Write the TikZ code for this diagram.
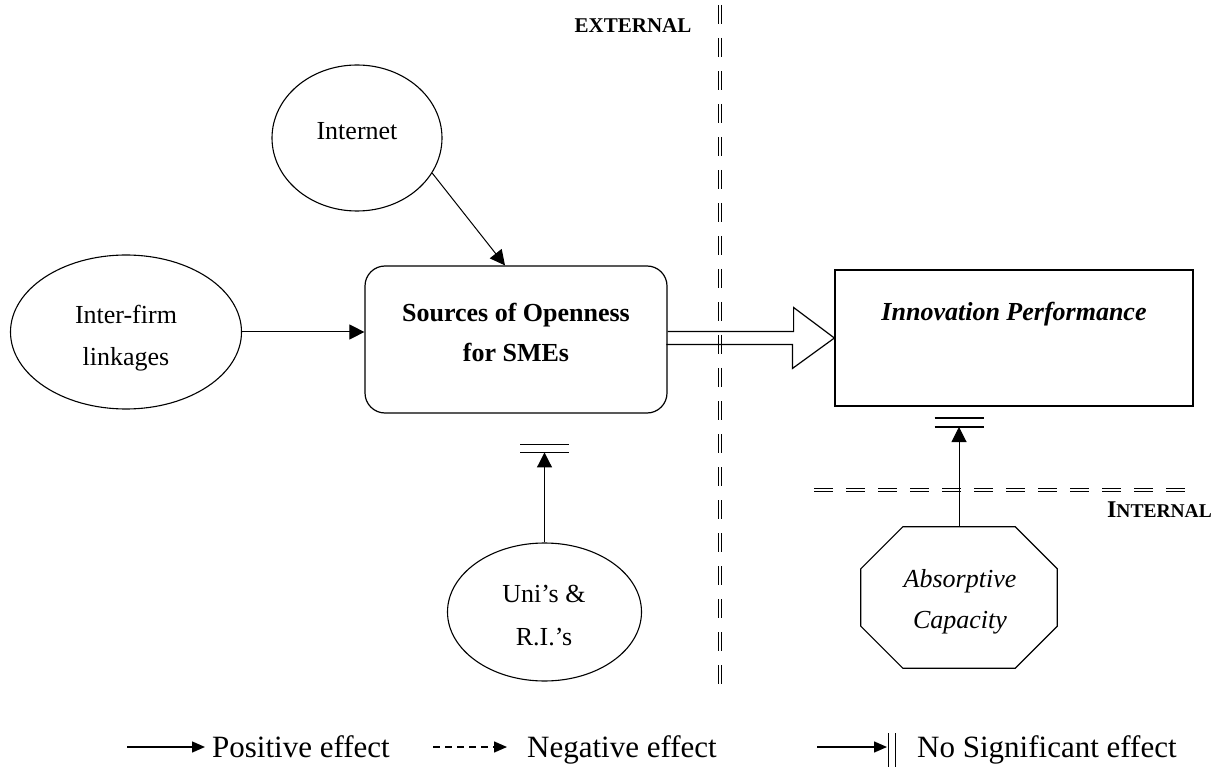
\documentclass[tikz,border=0pt]{standalone}
\usepackage{fontspec}
\setmainfont{Liberation Serif}
\usetikzlibrary{arrows.meta,calc,shapes.geometric}
\begin{document}
\begin{tikzpicture}[x=1pt,y=-1pt,
  ell/.style={draw, ellipse, inner sep=0pt, line width=1.1pt},
  boxst/.style={draw, rectangle, inner sep=0pt, line width=1.2pt},
  outline/.style={draw, line width=1.2pt, line join=miter},
  txt/.style={inner sep=0pt, anchor=base, font=\fontsize{26}{30}\selectfont},
  posarrow/.style={-{Triangle[length=15pt,width=15pt]}, line width=1pt},
  bar/.style={line width=1.3pt},
  sepline/.style={double, double distance=2.3pt, line width=0.9pt, dash pattern=on 19pt off 14pt},
  legarrow/.style={-{Triangle[length=13pt,width=11pt]}, line width=1.4pt},
  legtxt/.style={inner sep=0pt, anchor=base west, font=\fontsize{31}{35}\selectfont}
]
\useasboundingbox (0,0) rectangle (1216,767);

% separating lines
\coordinate (vtop) at (720,5);
\coordinate (vbot) at (720,690);
\draw[sepline] (vtop) -- (vbot);
\coordinate (hl) at (814,490);
\coordinate (hr) at (1194,490);
\draw[sepline, dash pattern=on 19pt off 13pt] (hl) -- (hr);

\node[txt, font=\fontsize{21}{24}\selectfont\bfseries] (ext) at (633,33) {EXTERNAL};
\node[txt, anchor=base east, font=\bfseries] (int) at (1212,517) {{\fontsize{24}{26}\selectfont I}{\fontsize{19.5}{22}\selectfont NTERNAL}};

% shapes
\node[ell, minimum width=170pt, minimum height=146pt] (inet) at (357,138) {};
\node[ell, minimum width=231pt, minimum height=154pt] (firm) at (126,332) {};
\node[boxst, rounded corners=20pt, minimum width=302pt, minimum height=147pt] (src) at (516,339.5) {};
\node[boxst, minimum width=358pt, minimum height=136pt] (inno) at (1014,338) {};
\node[ell, minimum width=194pt, minimum height=138pt] (uni) at (544.5,612) {};
\node[inner sep=0pt, minimum width=196pt, minimum height=141pt] (abs) at (959,597.5) {};
\draw[outline] ($(abs.north west)+(42,0)$) -- ($(abs.north east)+(-42,0)$)
  -- ($(abs.north east)+(0,42)$) -- ($(abs.south east)+(0,-42)$)
  -- ($(abs.south east)+(-42,0)$) -- ($(abs.south west)+(42,0)$)
  -- ($(abs.south west)+(0,-42)$) -- ($(abs.north west)+(0,42)$) -- cycle;

% texts
\node[txt] (tinet) at (357,140) {Internet};
\node[txt] (tfirm1) at (126,324) {Inter-firm};
\node[txt] (tfirm2) at (126,366) {linkages};
\node[txt, font=\fontsize{26}{30}\selectfont\bfseries] (tsrc1) at (516,322) {Sources of Openness};
\node[txt, font=\fontsize{26}{30}\selectfont\bfseries] (tsrc2) at (516,362) {for SMEs};
\node[txt, font=\fontsize{26}{30}\selectfont\bfseries\itshape] (tinno) at (1014,321) {Innovation Performance};
\node[txt] (tuni1) at (544,602) {Uni’s \&};
\node[txt] (tuni2) at (544,645) {R.I.’s};
\node[txt, font=\fontsize{26}{30}\selectfont\itshape] (tabs1) at (960,587) {Absorptive};
\node[txt, font=\fontsize{26}{30}\selectfont\itshape] (tabs2) at (960,628) {Capacity};

% connectors
\draw[posarrow] (inet.-25) -- ([xshift=-11pt]src.north);
\draw[posarrow] (firm.east) -- (firm.east -| src.west);

% hollow block arrow
\draw[outline] (src.east |- inno.west) ++(0,-6.5) -- ++(126,0) -- ++(0,-24) -- (inno.west)
  -- ++(-42,30.5) -- ++(0,-24) -- ++(-126,0);

% no significant effect: Uni's
\coordinate (ut) at ($(uni.north)+(0,-90)$);
\draw[posarrow] (uni.north) -- (ut);
\draw[bar] ($(ut)+(-24.5,0)$) -- ($(ut)+(24.5,0)$);
\draw[bar] ($(ut)+(-24.5,-8)$) -- ($(ut)+(24.5,-8)$);

% no significant effect: absorptive capacity
\coordinate (at) at (abs.north |- 0,427);
\draw[posarrow] (abs.north) -- (at);
\draw[bar] ($(at)+(-24.5,0)$) -- ($(at)+(24.5,0)$);
\draw[bar] ($(at)+(-24.5,-9)$) -- ($(at)+(24.5,-9)$);

% legend
\node[legtxt] (lpos) at (212,757) {Positive effect};
\node[legtxt] (lneg) at (527,757) {Negative effect};
\node[legtxt] (lns) at (917,757) {No Significant effect};
\coordinate (l1) at (127,747);
\coordinate (l2) at (433,747);
\coordinate (l3) at (817,747);
\draw[legarrow] (l1) -- ($(l1 -| lpos.west)+(-7,0)$);
\draw[legarrow, dash pattern=on 7pt off 5pt] (l2) -- ($(l2 -| lneg.west)+(-20,0)$);
\coordinate (l3t) at (887,747);
\draw[legarrow] (l3) -- (l3t);
\draw[line width=1.2pt] ($(l3t)+(1.5,-14)$) -- ($(l3t)+(1.5,21)$);
\draw[line width=1.2pt] ($(l3t)+(8.5,-14)$) -- ($(l3t)+(8.5,21)$);
\end{tikzpicture}
\end{document}
